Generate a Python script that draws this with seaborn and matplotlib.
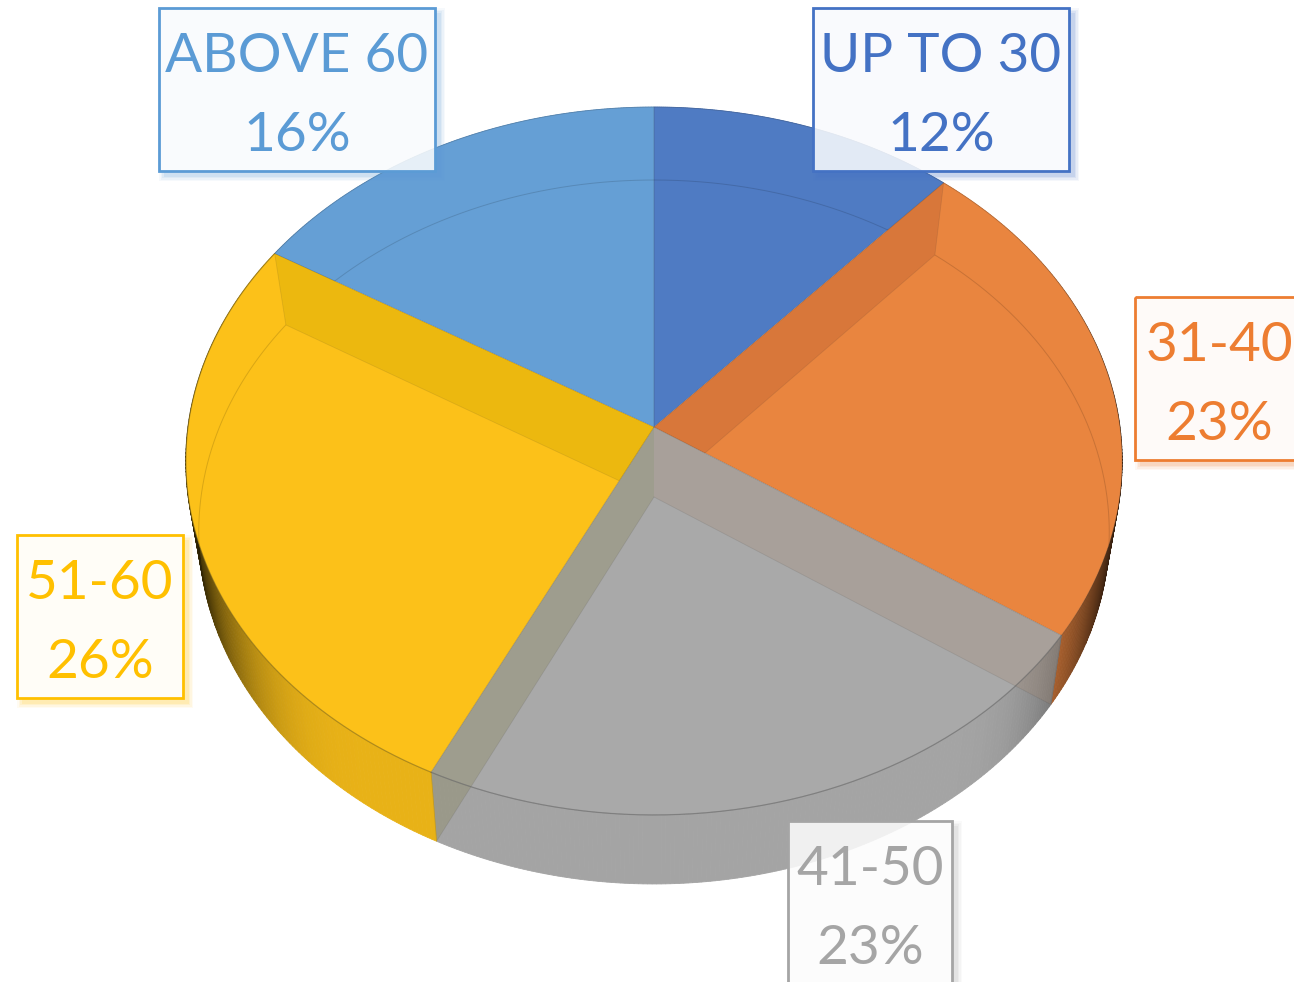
import numpy as np
import seaborn as sns
import matplotlib.pyplot as plt
from matplotlib.patches import Rectangle
from matplotlib.path import Path
from matplotlib.colors import to_rgb

# Data
categories = ['UP TO 30', '31-40', '41-50', '51-60', 'ABOVE 60']
shares = [11.6, 22.9, 22.7, 26.49, 16.31]

face_colors = ['#4F7BC3', '#E9853F', '#A9A9A9', '#FCC119', '#659FD5']
text_colors = ['#4472C4', '#ED7D31', '#A5A5A5', '#FFC000', '#5B9BD5']
wall_level = [1, 0.96, 0.97, 0.92, 1]

# label box left, top, width (height is the same for all)
box_left = [813, 1135, 788, 17, 159]
box_top = [8, 297, 821, 535, 8]
box_width = [256, 168, 164, 166, 276]
box_height = 163

sns.set_theme(style='white')
plt.rcParams['font.family'] = ['Lato', 'DejaVu Sans']
palette = sns.color_palette(face_colors)

fig = plt.figure(figsize=(12.94, 9.82), dpi=100)
ax = fig.add_axes([0, 0, 1, 1])
ax.set_xlim(0, 1294)
ax.set_ylim(982, 0)
ax.axis('off')


def project(theta, a, b, k, cy):
    # disc seen in perspective, theta runs clockwise from the top
    x, y = np.sin(theta), np.cos(theta)
    w = 1 + k * y
    return 654 + a * x / w, cy - b * y / w


def top(theta):
    return project(theta, 466, 350.7, 0.096, 427)


def bottom(theta):
    return project(theta, 453, 348.5, 0.0994, 497)


def shade(color, x, level):
    t = min(abs(x - 654) / 468, 1)
    f = level * (1 - 0.92 * np.clip((t - 0.6) / 0.4, 0, 1) ** 3)
    return tuple(c * f for c in to_rgb(color))


edges = np.cumsum([0] + shares) / 100 * 2 * np.pi
spans = [np.linspace(edges[i], edges[i + 1], 160) for i in range(len(shares))]

# outer side wall
for span, color, level in zip(spans, palette, wall_level):
    tx, ty = top(span)
    bx, by = bottom(span)
    for j in range(len(span) - 1):
        qx = [tx[j], tx[j + 1], bx[j + 1], bx[j]]
        qy = [ty[j], ty[j + 1], by[j + 1], by[j]]
        c = shade(color, (tx[j] + bx[j]) / 2, level)
        ax.fill(qx, qy, color=c, lw=0.6, zorder=1)

# top faces
faces = []
for span, color in zip(spans, palette):
    tx, ty = top(span)
    xs = np.r_[654, tx]
    ys = np.r_[427, ty]
    faces.append(ax.fill(xs, ys, color=color, lw=0, zorder=2)[0])
    ax.plot(xs, ys, color='#333333', lw=0.6, alpha=0.25, zorder=5)


def inner_wall(i, color, alpha, clip=None):
    tx, ty = top(edges[i])
    bx, by = bottom(edges[i])
    xs = [654, tx, bx, 654]
    ys = [427, ty, by, 497]
    wall = ax.fill(xs, ys, color=color, alpha=alpha, lw=0, zorder=3)[0]
    if clip is not None:
        wall.set_clip_path(clip)
    line = ax.plot(xs[1:], ys[1:], color='#333333', lw=0.6, alpha=0.12, zorder=3)[0]
    if clip is not None:
        line.set_clip_path(clip)


# radial walls seen through the see-through slices
inner_wall(1, '#D8773A', 1, faces[1])
inner_wall(2, '#A87F60', 0.2)
inner_wall(3, '#7F7A40', 0.25)
inner_wall(4, '#ECB80F', 1, faces[3])

# far rim of the lower disc, showing through the top
for i, span in enumerate(spans):
    bx, by = bottom(span)
    tint = tuple(c * 0.86 for c in palette[i])
    line = ax.plot(bx, by, color=tint, lw=0.7, zorder=4)[0]
    line.set_clip_path(faces[i])

# front rim on the side wall
tx, ty = top(spans[2])
ax.plot(tx, ty, color='#707070', lw=0.9, alpha=0.5, zorder=5)
tx, ty = top(spans[3])
ax.plot(tx, ty, color='#8A6F10', lw=0.9, alpha=0.4, zorder=5)

# label boxes
for i, name in enumerate(categories):
    x0, y0, w = box_left[i], box_top[i], box_width[i]
    # shadow only outside the box, the box itself is see-through
    x1, y1 = x0 + w, y0 + box_height
    hole = Path([(-50, -50), (1400, -50), (1400, 1100), (-50, 1100), (-50, -50),
                 (x0, y0), (x0, y1), (x1, y1), (x1, y0), (x0, y0)],
                [Path.MOVETO, Path.LINETO, Path.LINETO, Path.LINETO, Path.CLOSEPOLY,
                 Path.MOVETO, Path.LINETO, Path.LINETO, Path.LINETO, Path.CLOSEPOLY])
    for grow, a in zip([5, 3.5, 2, 0.5], [0.05, 0.07, 0.09, 0.12]):
        shadow = Rectangle((x0 + 5 - grow, y0 + 5 - grow), w + 2 * grow, box_height + 2 * grow,
                           facecolor=text_colors[i], edgecolor='none', alpha=a, zorder=6)
        ax.add_patch(shadow)
        shadow.set_clip_path(hole, ax.transData)
    ax.add_patch(Rectangle((x0, y0), w, box_height, facecolor='white', edgecolor='none', zorder=7, alpha=0.875))
    ax.add_patch(Rectangle((x0, y0), w, box_height, facecolor=text_colors[i], edgecolor='none', zorder=7, alpha=0.03))
    ax.add_patch(Rectangle((x0, y0), w, box_height, facecolor='none', edgecolor=text_colors[i], lw=2, zorder=8))
    cx = x0 + w / 2
    ax.text(cx, y0 + 44, name, color=text_colors[i], fontsize=39.5, ha='center', va='center_baseline', zorder=9)
    ax.text(cx, y0 + 123, f'{round(shares[i])}%', color=text_colors[i], fontsize=39.5, ha='center',
            va='center_baseline', zorder=9)

plt.savefig('out.png', dpi=100)
